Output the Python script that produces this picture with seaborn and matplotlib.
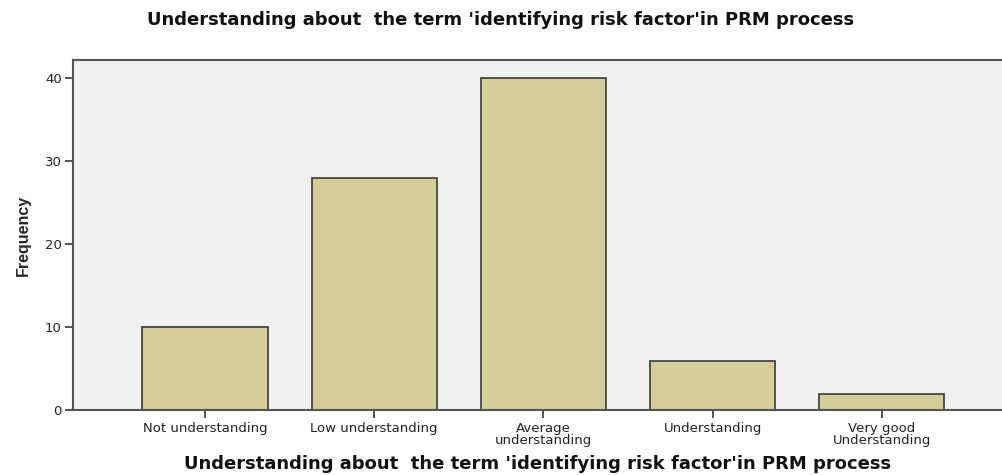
import matplotlib
matplotlib.use("Agg")
import matplotlib.pyplot as plt
import pandas as pd
import seaborn as sns

categories = [
    "Not understanding",
    "Low understanding",
    "Average\nunderstanding",
    "Understanding",
    "Very good\nUnderstanding",
]
frequency = [10, 28, 40, 6, 2]
title = "Understanding about  the term 'identifying risk factor'in PRM process"

sns.set_theme(style="white")
plt.rcParams["font.family"] = ["DejaVu Sans"]

df = pd.DataFrame({"level": categories, "count": frequency})

fig = plt.figure(figsize=(10.02, 4.75), dpi=100)
ax = fig.add_axes([0.0729, 0.1358, 0.9271, 0.7379])
ax.set_facecolor("#f0f0f0")

sns.barplot(
    data=df,
    x="level",
    y="count",
    color="#d3ce97",
    saturation=1,
    width=0.74,
    edgecolor="#3a3a3a",
    linewidth=1.2,
    ax=ax,
)

ax.set_xlim(-0.78, 4.71)
ax.set_ylim(0, 42.2)
ax.set_yticks([0, 10, 20, 30, 40])
ax.tick_params(axis="both", which="major", direction="out", length=6, width=1.2,
               color="#333333", labelsize=9.5, labelcolor="#222222", pad=2,
               left=True, bottom=True)

for side in ["left", "top", "bottom"]:
    ax.spines[side].set_visible(True)
    ax.spines[side].set_color("#555555")
    ax.spines[side].set_linewidth(1.5)
ax.spines["right"].set_visible(False)

ax.set_ylabel("Frequency", fontsize=11.5, fontweight="bold",
              family=["Liberation Sans Narrow", "Liberation Sans"], labelpad=10)
ax.set_xlabel(title, fontsize=13, fontweight="bold", labelpad=6, color="#111111")
fig.text(0.5, 0.958, title, ha="center", va="center", fontsize=13,
         fontweight="bold", color="#111111")

for lab in ax.get_xticklabels():
    lab.set_linespacing(0.95)

fig.savefig("out.png", dpi=100)
